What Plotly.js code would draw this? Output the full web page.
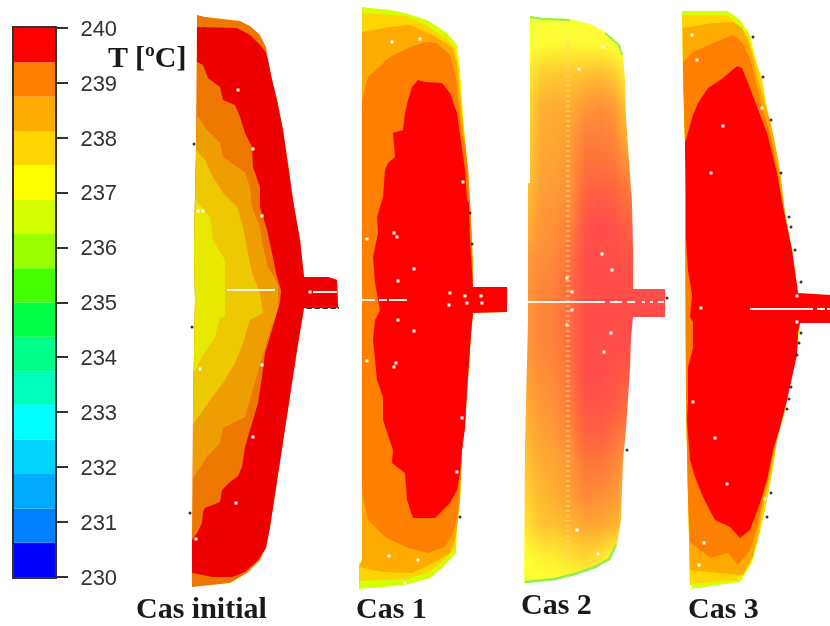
<!DOCTYPE html>
<html><head><meta charset="utf-8">
<script src="https://cdn.plot.ly/plotly-3.0.1.min.js"></script>
<style>html,body{margin:0;padding:0;background:#fff}#c{width:830px;height:626px;filter:blur(0.5px)}</style>
</head><body><div id="c"></div>
<script>
// Colour scale bands
const bandBase=[230,230.625,231.25,231.875,232.5,233.125,233.75,234.375,235,235.625,236.25,236.875,237.5,238.125,238.75,239.375];
const bandSize=[0.625,0.625,0.625,0.625,0.625,0.625,0.625,0.625,0.625,0.625,0.625,0.625,0.625,0.625,0.625,0.625];
const bandColors=['#0000ff','#0080ff','#00aaff','#00d4ff','#00ffff','#00ffbb','#00ff88','#00ff44','#44ff00','#99ff00','#d4ff00','#ffff00','#ffd400','#ffaa00','#ff7f00','#ff0000'];
const tickValues=[230,231,232,233,234,235,236,237,238,239,240];

// Cas initial iso-temperature contours
const initOuter=[[197,15],[205,17],[240,21],[250,26],[260,35],[266,47],[268,60],[272,80],[277,100],[283,130],[288,163],[293,200],[300,240],[304,277],[328,277],[337,280],[338,308],[304,308],[297,350],[290,397],[284,433],[278,473],[270,527],[266,547],[260,560],[247,573],[230,583],[192,587],[192,533],[193,410],[195,300],[194,245],[196,145]];
const initRed=[[197,27],[237,28],[250,35],[262,47],[266,53],[268,60],[272,80],[277,100],[283,130],[288,163],[293,200],[300,240],[304,277],[328,277],[337,280],[338,308],[304,308],[297,350],[290,397],[284,433],[278,473],[270,527],[266,548],[258,560],[245,572],[232,577],[213,577],[192,573],[192,540],[197,533],[202,523],[203,512],[205,508],[220,502],[222,490],[230,482],[238,476],[242,467],[245,447],[250,430],[254,418],[258,403],[262,377],[265,353],[272,330],[277,313],[280,302],[281,290],[277,277],[272,253],[267,230],[260,207],[260,187],[253,167],[252,147],[245,133],[240,117],[235,105],[223,100],[220,87],[208,78],[203,65],[197,62]];
const initAmber=[[197,115],[207,130],[220,143],[223,157],[237,167],[245,172],[250,187],[252,207],[260,227],[263,247],[268,267],[275,278],[278,287],[278,310],[270,330],[262,357],[252,393],[245,417],[223,428],[220,443],[207,457],[193,478],[193,410],[195,300],[194,245],[196,145]];
const initGold=[[196,150],[205,160],[213,177],[223,193],[237,207],[243,227],[248,253],[252,273],[260,293],[263,313],[250,320],[243,343],[235,363],[223,383],[210,400],[193,425],[193,410],[195,300],[194,245]];
const initYellow=[[196,200],[210,217],[213,240],[225,260],[225,283],[225,317],[220,317],[215,337],[202,357],[194,373],[195,300],[194,245]];

// Cas 1 contours
const cas1Outer=[[362,7],[390,10],[405,13],[427,20],[447,33],[457,45],[460,70],[462,100],[465,143],[468,170],[470,203],[472,243],[473,287],[507,287],[507,312],[473,313],[471,333],[469,363],[467,388],[465,423],[462,450],[460,500],[457,527],[456,553],[443,567],[430,578],[405,585],[359,589],[359,563],[362,562]];
const cas1Gold=[[362,13],[405,16],[425,24],[445,38],[455,48],[459,70],[461,100],[465,143],[468,170],[470,203],[472,243],[473,287],[473,313],[471,333],[469,363],[467,388],[465,423],[462,450],[460,500],[457,527],[455,549],[441,563],[430,572],[405,579],[359,581],[359,566],[362,562]];
const cas1Amber=[[362,32],[390,27],[410,25],[433,35],[452,47],[457,63],[460,97],[465,143],[468,170],[470,203],[472,243],[473,287],[473,313],[471,333],[469,363],[467,388],[465,423],[462,450],[460,500],[458,520],[455,540],[450,553],[433,563],[412,573],[383,572],[359,567],[362,560]];
const cas1Orange=[[362,100],[368,77],[390,57],[410,47],[425,42],[437,43],[450,55],[456,77],[458,100],[462,133],[465,143],[468,170],[470,203],[472,243],[473,287],[473,313],[471,333],[469,363],[467,388],[465,423],[462,450],[460,487],[458,513],[453,533],[445,547],[428,553],[408,548],[385,537],[368,520],[363,497],[362,487]];
const cas1Red=[[418,80],[425,82],[442,83],[450,93],[457,113],[460,133],[465,170],[467,200],[469,203],[470,240],[473,287],[507,287],[507,312],[473,313],[471,333],[469,363],[467,388],[465,428],[462,450],[460,473],[457,490],[450,503],[435,518],[413,518],[407,500],[405,473],[392,463],[393,450],[388,435],[383,420],[383,397],[377,380],[375,360],[373,340],[375,320],[380,310],[375,283],[373,257],[378,233],[377,217],[383,197],[385,170],[388,163],[395,157],[393,133],[403,130],[405,113],[408,100],[412,87]];

// Cas 2 temperature samples
const cas2X0=525, cas2DX=15, cas2Y0=15, cas2DY=30;
const cas2Z=[
[237.0,237.0,237.0,237.0,237.0,237.0,237.0,237.0,239.7,239.7],
[237.0,237.1,237.2,237.2,237.2,237.2,237.0,236.9,239.7,239.7],
[237.3,237.9,238.0,238.0,238.1,238.2,237.9,237.2,239.7,239.7],
[237.6,238.3,238.4,238.4,238.7,238.8,238.6,237.8,239.7,239.7],
[237.8,238.4,238.5,238.6,239.0,239.0,238.9,238.2,239.7,239.7],
[237.9,238.5,238.6,238.7,239.2,239.2,239.1,238.7,239.7,239.7],
[238.1,238.6,238.7,238.8,239.4,239.5,239.4,239.1,239.7,239.7],
[238.3,238.7,238.8,239.0,239.6,239.7,239.6,239.4,239.7,239.7],
[238.6,238.8,238.9,239.2,239.7,239.7,239.7,239.6,239.7,239.7],
[238.7,238.9,239.0,239.3,239.7,239.7,239.7,239.7,239.7,239.7],
[238.7,238.9,239.0,239.3,239.7,239.7,239.7,239.7,239.7,239.7],
[238.7,238.9,239.0,239.3,239.7,239.7,239.7,239.7,239.7,239.7],
[238.6,238.8,238.9,239.2,239.7,239.7,239.6,239.5,239.7,239.7],
[238.4,238.7,238.8,239.1,239.6,239.6,239.5,239.2,239.7,239.7],
[238.2,238.6,238.7,238.9,239.4,239.4,239.2,238.9,239.7,239.7],
[238.0,238.4,238.5,238.7,239.1,239.1,238.9,238.5,239.7,239.7],
[237.8,238.2,238.4,238.6,238.9,238.8,238.7,238.2,239.7,239.7],
[237.5,238.0,238.1,238.3,238.5,238.5,238.3,237.6,239.7,239.7],
[237.1,237.3,237.4,237.6,237.8,237.6,237.1,236.9,239.7,239.7],
[237.0,237.0,237.0,237.0,237.0,237.0,237.0,237.0,239.7,239.7]];
const cas2ColorScale=[[0,'#8fee50'],[0.15,'#ffff33'],[0.4,'#ffd030'],[0.6,'#ffaa33'],[0.8,'#ff7a3a'],[1,'#ff4d4a']];
const cas2Outline=[[530,16],[543,18],[570,19],[590,24],[605,32],[620,45],[623,55],[625,80],[626,117],[629,163],[632,204],[633,249],[633,289],[665,289],[665,317],[633,317],[631,338],[630,368],[628,397],[626,430],[623,460],[622,490],[621,520],[617,545],[610,560],[595,568],[575,575],[555,580],[524,583],[525,447],[528,320],[528,183],[530,183]];
const cas2Frame=[[512,0],[680,0],[680,603],[512,603],[512,0]];
const cas2RimTop=[[530,17],[543,19],[570,20]];
const cas2RimRight=[[605,33],[619,45],[622,55]];
const cas2RimBottom=[[616,545],[609,559],[595,567],[575,574],[555,579],[525,582]];
const cas2Stripe=[[568,40],[568,560]];

// Cas 3 contours
const cas3Outer=[[682,11],[728,11],[740,20],[750,35],[755,57],[762,80],[768,115],[778,170],[785,213],[792,250],[798,293],[830,295],[830,323],[800,323],[798,343],[792,373],[785,410],[777,440],[773,467],[767,500],[758,540],[752,563],[740,582],[690,589],[688,497],[686,400],[686,300],[685,143],[683,75]];
const cas3Gold=[[682,15],[727,15],[738,24],[748,37],[754,57],[762,80],[768,115],[778,170],[785,213],[792,250],[798,293],[798,343],[792,373],[785,410],[777,440],[773,467],[767,500],[758,540],[750,561],[736,580],[690,584],[688,497],[686,400],[685,143],[683,75]];
const cas3Amber=[[683,28],[713,23],[733,22],[742,28],[748,40],[753,57],[758,80],[765,103],[770,120],[775,143],[780,170],[785,213],[792,250],[798,293],[798,343],[792,373],[785,410],[777,440],[770,473],[763,507],[758,533],[753,557],[743,575],[720,573],[690,570],[688,497],[686,400],[685,143],[683,75]];
const cas3Orange=[[683,62],[693,52],[713,43],[733,35],[742,42],[750,58],[757,87],[763,110],[770,133],[777,167],[784,210],[796,300],[790,380],[770,467],[763,500],[757,527],[750,550],[738,565],[728,553],[710,558],[690,542],[688,497],[686,400],[685,143],[683,75]];
const cas3Red=[[737,66],[742,68],[748,83],[757,107],[767,133],[777,173],[783,207],[792,250],[798,293],[830,295],[830,323],[800,323],[798,333],[797,355],[787,400],[780,427],[773,450],[767,480],[760,503],[750,530],[740,538],[730,527],[715,520],[703,497],[695,477],[690,460],[688,433],[687,420],[688,400],[688,367],[693,348],[693,322],[690,317],[692,295],[688,270],[686,240],[686,190],[685,143],[693,115],[698,103],[708,88],[723,78]];

// Contour colours per case
const initColors=['#ee7700','#ee9e00','#eec800','#e8e800','#ee0000'];
const cas1Colors=['#d4ff00','#ffd400','#ffaa00','#ff7f00','#ff0000'];
const cas3Colors=['#d4ff00','#ffd400','#ffaa00','#ff7f00','#ff0000'];

// Specks and probe lines
const whiteSpecks=[[238,90],[253,149],[262,216],[203,211],[198,211],[262,365],[253,437],[236,503],[196,539],[200,369],[310,292],
[392,42],[420,39],[463,182],[367,239],[394,233],[397,237],[414,269],[398,281],[450,293],[449,305],[465,296],[467,303],[481,296],[482,303],[398,320],[414,331],[367,361],[396,363],[394,367],[462,418],[457,472],[389,556],[418,560],[405,583],
[603,47],[579,69],[602,254],[612,270],[567,278],[572,292],[572,310],[567,325],[611,333],[604,352],[577,530],[598,554],
[692,35],[697,60],[762,108],[723,126],[711,173],[701,308],[797,296],[797,322],[693,402],[715,438],[727,484],[765,499],[704,543],[699,565],[691,587]];
const blackDots=[[194,144],[192,327],[190,513],[470,213],[472,244],[460,517],[667,298],[627,450],[753,37],[763,77],[771,120],[781,173],[789,217],[791,227],[795,250],[801,282],[801,333],[799,343],[797,355],[791,387],[789,399],[787,409],[771,493],[767,517]];
const probeLines=[[[227,290],[275,290]],[[313,292],[337,292]],[[360,300],[375,300]],[[379,300],[387,300]],[[389,300],[407,300]],[[528,302],[605,302]],[[610,302],[622,302]],[[627,302],[635,302]],[[642,302],[645,302]],[[650,302],[653,302]],[[658,302],[664,302]],[[750,309],[813,309]],[[817,309],[825,309]],[[827,309],[830,309]]];
const dashLine=[[306,308],[339,308]];

const caseLabels=['Cas initial','Cas 1','Cas 2','Cas 3'];
const labelAnchors=[[201,607],[391,607],[556,603],[723,607]];

const xs=p=>p.map(a=>a[0]), ys=p=>p.map(a=>a[1]);
const poly=(p,c)=>({type:'scatter',mode:'lines',x:xs(p).concat(p[0][0]),y:ys(p).concat(p[0][1]),fill:'toself',fillcolor:c,line:{width:0,color:c},hoverinfo:'skip',showlegend:false});
const line=(p,c,w,d)=>({type:'scatter',mode:'lines',x:xs(p),y:ys(p),line:{color:c,width:w,dash:d||'solid'},hoverinfo:'skip',showlegend:false});

const cas2Mask=cas2Frame.concat(cas2Outline.slice().reverse(),[cas2Outline[cas2Outline.length-1]],[cas2Frame[0]]);

const traces=[
 {type:'bar',x:bandBase.map(()=>0.5),y:bandSize,base:bandBase,width:1,marker:{color:bandColors,line:{width:0}},xaxis:'x2',yaxis:'y2',hoverinfo:'skip',showlegend:false},
 {type:'heatmap',x0:cas2X0,dx:cas2DX,y0:cas2Y0,dy:cas2DY,z:cas2Z,colorscale:cas2ColorScale,zmin:236.6,zmax:239.7,zsmooth:'best',showscale:false,hoverinfo:'skip'},
 line(cas2Stripe,'rgba(255,215,110,0.55)',4,'2px,3px'),
 poly(cas2Mask,'#ffffff'),
 line(cas2RimTop,'#8fee50',2),line(cas2RimRight,'#8fee50',2),line(cas2RimBottom,'#8fee50',2.5)
];
[initOuter,initAmber,initGold,initYellow,initRed].forEach((p,i)=>traces.push(poly(p,initColors[i])));
[cas1Outer,cas1Gold,cas1Amber,cas1Orange,cas1Red].forEach((p,i)=>traces.push(poly(p,cas1Colors[i])));
[cas3Outer,cas3Gold,cas3Amber,cas3Orange,cas3Red].forEach((p,i)=>traces.push(poly(p,cas3Colors[i])));
probeLines.forEach(p=>traces.push(line(p,'#fff4ee',2)));
traces.push(line(dashLine,'#444444',2,'6px,2px'));
traces.push({type:'scatter',mode:'markers',x:xs(whiteSpecks),y:ys(whiteSpecks),marker:{symbol:'square',size:3,color:'#ffffff'},hoverinfo:'skip',showlegend:false});
traces.push({type:'scatter',mode:'markers',x:xs(blackDots),y:ys(blackDots),marker:{symbol:'circle',size:3,color:'#333333'},hoverinfo:'skip',showlegend:false});

const serif={family:'"Liberation Serif",serif',size:30,color:'#1a1a1a'};
const annotations=caseLabels.map((t,i)=>({x:labelAnchors[i][0],y:labelAnchors[i][1],xref:'x',yref:'y',text:'<b>'+t+'</b>',showarrow:false,font:serif,xanchor:'center',yanchor:'middle'}));
annotations.push({x:147,y:56,xref:'x',yref:'y',text:'<b>T [ºC]</b>',showarrow:false,font:serif,xanchor:'center',yanchor:'middle'});

const layout={width:830,height:626,margin:{l:0,r:0,t:0,b:0},paper_bgcolor:'#fff',plot_bgcolor:'rgba(0,0,0,0)',barmode:'overlay',showlegend:false,
 xaxis:{range:[0,830],visible:false,domain:[0,1],fixedrange:true},
 yaxis:{range:[626,0],visible:false,domain:[0,1],fixedrange:true},
 xaxis2:{domain:[14/830,55/830],range:[0,1],anchor:'y2',showticklabels:false,ticks:'',showgrid:false,zeroline:false,showline:true,linecolor:'#333',linewidth:2,mirror:true},
 yaxis2:{domain:[49/626,598/626],range:[230,240],anchor:'x2',side:'right',tickvals:tickValues,ticks:'outside',ticklen:11,tickwidth:2,tickcolor:'#333',ticklabelstandoff:8,showgrid:false,zeroline:false,showline:true,linecolor:'#333',linewidth:2,mirror:true,tickfont:{family:'"Liberation Sans",sans-serif',size:22,color:'#333'}},
 annotations:annotations};
Plotly.newPlot('c',traces,layout,{displayModeBar:false,staticPlot:true});
</script></body></html>
